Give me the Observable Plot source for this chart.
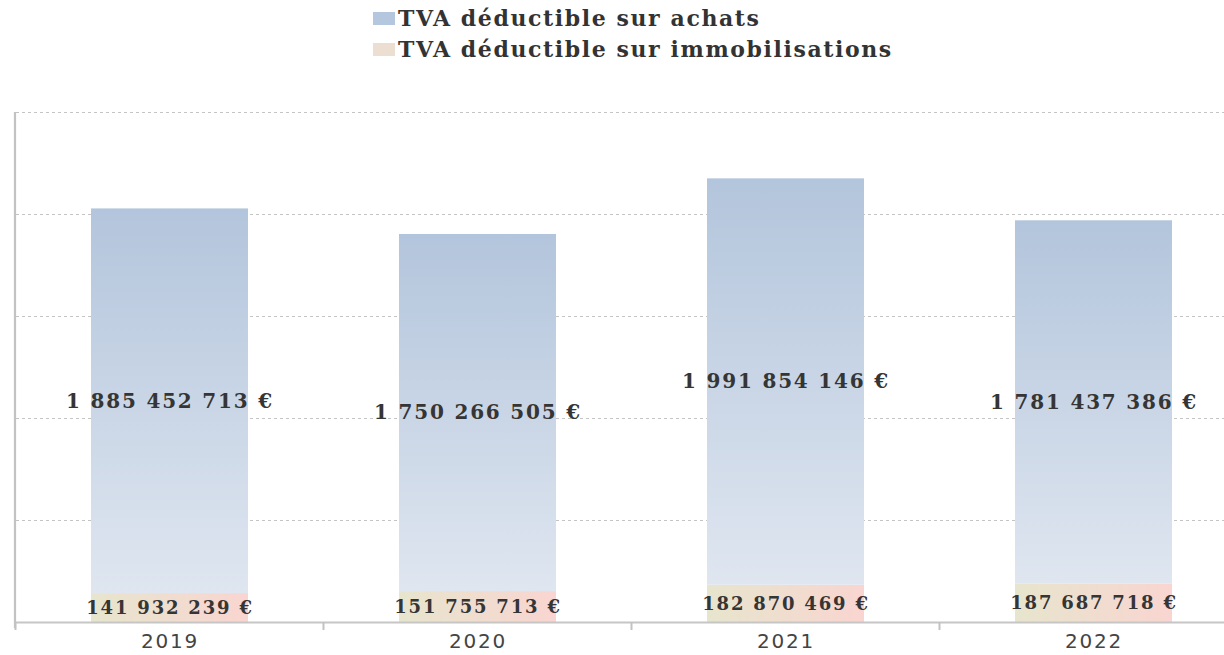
<!DOCTYPE html>
<html><head><meta charset="utf-8">
<script src="https://cdn.jsdelivr.net/npm/d3@7"></script>
<script src="https://cdn.jsdelivr.net/npm/@observablehq/plot@0.6"></script>
<style>
body{margin:0;background:#fff;width:1224px;height:655px;overflow:hidden;}
#legend{position:relative;height:80px;font-family:"DejaVu Serif",serif;font-weight:bold;font-size:22px;color:#333;}
.item{position:absolute;left:373px;display:flex;align-items:center;letter-spacing:1.6px;white-space:nowrap}
.sw{width:22px;height:13px;margin-right:3px;flex:none}
#chart svg text{letter-spacing:1.8px}
</style></head><body>
<div id="legend"></div>
<div id="chart"></div>
<script>
const years = ["2019", "2020", "2021", "2022"];
const achats = [1885452713, 1750266505, 1991854146, 1781437386];
const immobilisations = [141932239, 151755713, 182870469, 187687718];
const seriesAchats = "TVA déductible sur achats";
const seriesImmo = "TVA déductible sur immobilisations";
const legendSeries = [seriesAchats, seriesImmo];
const legendColors = ["#b5c7de", "#ecdfd2"];
const yTicks = [500e6, 1000e6, 1500e6, 2000e6, 2500e6];

const data = [];
years.forEach((y, i) => {
  data.push({year: y, series: seriesImmo, value: immobilisations[i]});
  data.push({year: y, series: seriesAchats, value: achats[i]});
});

const fmt = v => d3.format(",")(v).replace(/,/g, " ") + " €";

// legend
const legend = document.getElementById("legend");
legendSeries.forEach((s, i) => {
  const it = document.createElement("div");
  it.className = "item";
  it.style.top = (5 + i * 31) + "px";
  const sw = document.createElement("span");
  sw.className = "sw";
  sw.style.background = legendColors[i];
  const tx = document.createElement("span");
  tx.textContent = s;
  it.appendChild(sw); it.appendChild(tx);
  legend.appendChild(it);
});

const chart = Plot.plot({
  width: 1224,
  height: 575,
  marginTop: 32,
  marginBottom: 33,
  marginLeft: 16,
  marginRight: 0,
  style: {fontFamily: "DejaVu Sans, sans-serif", fontSize: "20px", color: "#444", background: "white"},
  x: {type: "band", domain: years, range: [16, 1248], paddingInner: 0.49, paddingOuter: 0.245, label: null, tickSize: 0, tickPadding: 11},
  y: {domain: [0, 2500e6], axis: null},
  color: {domain: [seriesImmo, seriesAchats], range: ["url(#gImmo)", "url(#gAchats)"]},
  marks: [
    Plot.ruleY(yTicks, {stroke: "#c4c4c4", strokeWidth: 1.2, strokeDasharray: "3,3"}),
    Plot.barY(data, Plot.stackY({x: "year", y: "value", z: "series", fill: "series"})),
    Plot.text(data, Plot.stackY({
      x: "year", y: "value", z: "series",
      text: d => fmt(d.value),
      fontSize: d => d.series === seriesImmo ? 18 : 20,
      fontFamily: "DejaVu Serif, serif",
      fontWeight: "bold",
      fill: "#353535"
    })),
    Plot.ruleY([0], {stroke: "#c6c6c6", strokeWidth: 2})
  ]
});

const svg = d3.select(chart);
const defs = svg.insert("defs", ":first-child");
const g1 = defs.append("linearGradient").attr("id", "gAchats").attr("x1", 0).attr("y1", 0).attr("x2", 0).attr("y2", 1);
g1.append("stop").attr("offset", "0%").attr("stop-color", "#b3c5dc");
g1.append("stop").attr("offset", "100%").attr("stop-color", "#dfe6f0");
const g2 = defs.append("linearGradient").attr("id", "gImmo").attr("x1", 0).attr("y1", 0).attr("x2", 1).attr("y2", 0);
g2.append("stop").attr("offset", "0%").attr("stop-color", "#e7e5cd");
g2.append("stop").attr("offset", "100%").attr("stop-color", "#f9d5d1");

// axis lines and boundary ticks from the scales
const xs = chart.scale("x");
const ys = chart.scale("y");
const y0 = ys.apply(0), yTop = ys.apply(yTicks[yTicks.length - 1]);
const half = (xs.step - xs.bandwidth) / 2;
const axes = svg.append("g").attr("stroke", "#c2c2c2");
axes.append("line").attr("x1", xs.range[0] - 1).attr("x2", xs.range[0] - 1)
  .attr("y1", yTop).attr("y2", y0 + 6).attr("stroke-width", 2.2);
years.forEach(yr => {
  const bx = xs.apply(yr) - half;
  axes.append("line").attr("x1", bx).attr("x2", bx).attr("y1", y0).attr("y2", y0 + 8).attr("stroke-width", 2);
});
document.getElementById("chart").appendChild(chart);
</script>
</body></html>
